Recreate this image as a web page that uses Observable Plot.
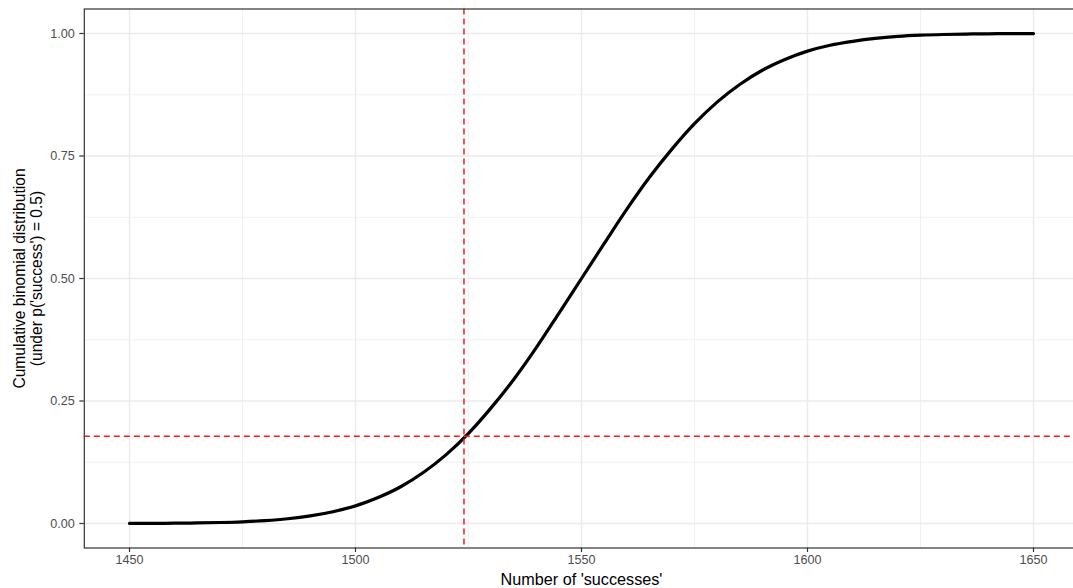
<!DOCTYPE html>
<html>
<head>
<meta charset="utf-8">
<script src="https://cdn.jsdelivr.net/npm/d3@7"></script>
<script src="https://cdn.jsdelivr.net/npm/@observablehq/plot@0.6"></script>
<style>
  html, body { margin: 0; padding: 0; background: #fff; overflow: hidden; }
  #chart svg { display: block; }
</style>
</head>
<body>
<div id="chart"></div>
<script>
// ---- data ----
const successes = [1450,1455,1460,1465,1470,1475,1480,1485,1490,1495,1500,1505,1510,1515,1520,1525,1530,1535,1540,1545,1550,1555,1560,1565,1570,1575,1580,1585,1590,1595,1600,1605,1610,1615,1620,1625,1630,1635,1640,1645,1650];
const cumProb = [0.0002,0.0003,0.0006,0.0011,0.0020,0.0035,0.0059,0.0097,0.0155,0.024,0.036,0.053,0.075,0.104,0.140,0.184,0.236,0.294,0.359,0.429,0.500,0.571,0.641,0.706,0.764,0.816,0.860,0.896,0.925,0.947,0.964,0.976,0.984,0.990,0.994,0.9965,0.998,0.9989,0.9994,0.9997,0.9998];
const cutoffX = 1524;
const cutoffY = 0.178;
const xTicks = [1450, 1500, 1550, 1600, 1650];
const xMinor = [1475, 1525, 1575, 1625];
const yTicks = [0, 0.25, 0.5, 0.75, 1];
const yMinor = [0.125, 0.375, 0.625, 0.875];
const xTitle = "Number of 'successes'";
const yTitle = "Cumulative binomial distribution\n(under p('success') = 0.5)";

const curve = successes.map((s, i) => ({x: s, p: cumProb[i]}));
const font = "'Liberation Sans', Arial, Helvetica, sans-serif";

const chart = Plot.plot({
  width: 1073,
  height: 588,
  marginLeft: 83.8,
  marginRight: -5.2,
  marginTop: 8.5,
  marginBottom: 40.5,
  style: {fontFamily: font, background: "#fff"},
  x: {domain: [1440, 1660]},
  y: {domain: [-0.05, 1.05]},
  marks: [
    Plot.gridX(xMinor, {stroke: "#ebebeb", strokeOpacity: 1, strokeWidth: 0.7}),
    Plot.gridY(yMinor, {stroke: "#ebebeb", strokeOpacity: 1, strokeWidth: 0.7}),
    Plot.gridX(xTicks, {stroke: "#ebebeb", strokeOpacity: 1, strokeWidth: 1.4}),
    Plot.gridY(yTicks, {stroke: "#ebebeb", strokeOpacity: 1, strokeWidth: 1.4}),
    Plot.line(curve, {x: "x", y: "p", stroke: "#000", strokeWidth: 3.2, curve: "monotone-x"}),
    Plot.ruleX([cutoffX], {stroke: "#ff1a1a", strokeWidth: 1.5, strokeDasharray: "6,4"}),
    Plot.ruleY([cutoffY], {stroke: "#ff1a1a", strokeWidth: 1.5, strokeDasharray: "6,4"}),
    Plot.frame({stroke: "#333333", strokeWidth: 1.2}),
    Plot.axisX(xTicks, {tickSize: 4.5, tickPadding: 3, stroke: "#333333", strokeWidth: 1.2, fill: "#4d4d4d", fontSize: 12.6, tickFormat: "d", label: null}),
    Plot.axisY(yTicks, {tickSize: 4.5, tickPadding: 5, stroke: "#333333", strokeWidth: 1.2, fill: "#4d4d4d", fontSize: 12.6, tickFormat: ".2f", label: null}),
    Plot.text([xTitle], {frameAnchor: "bottom", dy: 31.5, text: d => d, fontSize: 16.2, fill: "#000", lineAnchor: "middle", textAnchor: "middle"}),
    Plot.text([yTitle], {frameAnchor: "left", dx: -56.3, rotate: -90, text: d => d, fontSize: 15.6, fill: "#000", lineAnchor: "middle", textAnchor: "middle", lineHeight: 1.1})
  ]
});
document.getElementById("chart").appendChild(chart);
</script>
</body>
</html>
